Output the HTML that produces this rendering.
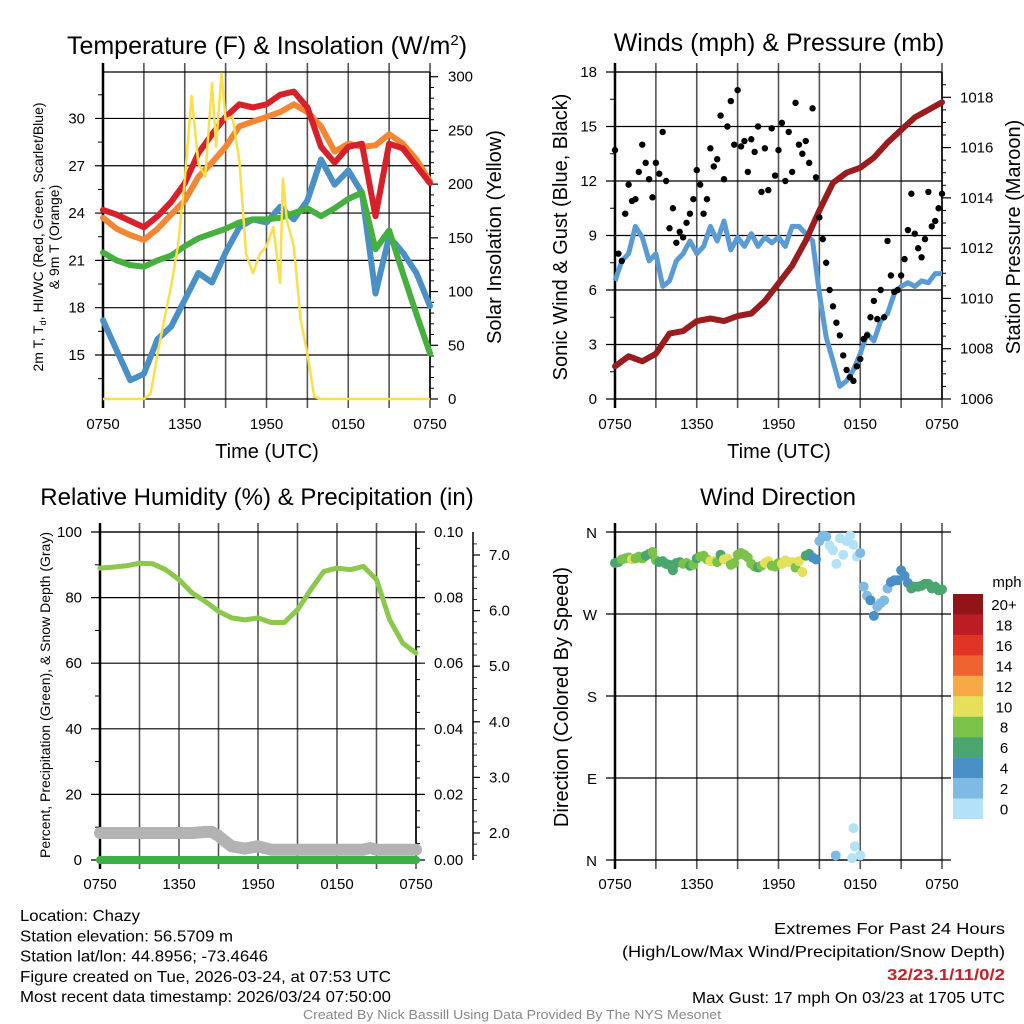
<!DOCTYPE html>
<html><head><meta charset="utf-8"><style>
html,body{margin:0;padding:0;background:#fff;}
svg{display:block;font-family:"Liberation Sans",sans-serif;}
</style></head><body>
<svg id="chart" width="1024" height="1024" viewBox="0 0 1024 1024"></svg>
<script>
// ---------- data ----------
const hours = [0,1,2,3,4,5,6,7,8,9,10,11,12,13,14,15,16,17,18,19,20,21,22,23,24];
const xTickLabels = ["0750","1350","1950","0150","0750"];
const tempTicks = [15,18,21,24,27,30];
const solarTicks = [0,50,100,150,200,250,300];
const temp2m = [24.2,23.9,23.5,23.1,23.8,24.7,25.9,27.8,29.0,30.1,30.9,30.7,30.9,31.5,31.7,30.7,28.2,27.2,28.2,28.4,23.8,28.4,28.1,27.0,25.9];
const temp9m = [23.7,23.0,22.6,22.3,23.0,23.9,24.8,26.3,27.2,28.2,29.5,29.8,30.1,30.4,30.9,30.4,29.5,27.9,28.4,28.2,28.3,29.0,28.4,27.4,26.0];
const dewpt = [21.5,21.0,20.7,20.6,21.0,21.3,21.9,22.4,22.7,23.0,23.4,23.6,23.6,23.7,24.0,24.3,23.8,24.3,24.9,25.3,21.7,22.9,20.2,17.6,15.1];
const windChill = [17.2,15.3,13.4,13.8,16.0,16.8,18.5,20.2,19.6,21.5,23.1,23.6,23.4,24.4,23.6,24.8,27.4,25.8,26.7,25.3,18.9,22.5,21.5,20.2,18.1];
const solarHours = [0,3,3.5,4,4.5,5,5.5,6,6.5,7,7.5,8,8.3,8.7,9,9.5,10,10.5,11,11.5,12,12.5,13,13.2,13.5,14,14.5,15,15.5,16,24];
const solar = [0,0,5,42,74,105,142,204,282,219,207,294,235,303,260,263,222,135,117,135,142,160,108,205,166,142,74,42,2,0,0];

const windHours = [0,0.5,1,1.5,2,2.5,3,3.5,4,4.5,5,5.5,6,6.5,7,7.5,8,8.5,9,9.5,10,10.5,11,11.5,12,12.5,13,13.5,14,14.5,15,15.5,16,16.5,17,17.5,18,18.5,19,19.5,20,20.5,21,21.5,22,22.5,23,23.5,24];
const sonicWind = [6.5,7.6,8.0,9.5,8.9,7.6,8.0,6.2,6.5,7.6,8.0,8.7,8.0,8.4,9.5,8.7,9.8,8.2,8.9,8.4,9.1,8.4,8.9,8.6,8.9,8.4,9.5,9.5,9.1,8.7,5.8,3.4,2.1,0.7,1.0,1.6,2.5,3.6,3.2,4.3,4.7,5.8,6.2,6.4,6.2,6.5,6.4,6.9,6.9];
const windTicks = [0,3,6,9,12,15,18];
const pressTicks = [1006,1008,1010,1012,1014,1016,1018];
const pressure = [1007.3,1007.7,1007.5,1007.8,1008.6,1008.7,1009.1,1009.2,1009.1,1009.3,1009.4,1009.9,1010.6,1011.3,1012.3,1013.5,1014.6,1015.0,1015.2,1015.6,1016.2,1016.7,1017.2,1017.5,1017.8];
const gusts = [13.7,8.0,7.6,10.2,11.8,10.9,11.0,12.5,14.0,13.0,12.1,11.1,13.0,12.4,14.7,12.0,9.4,10.5,8.6,9.2,8.9,9.7,10.2,11.0,12.6,11.8,10.2,11.0,13.8,12.8,13.2,15.6,12.1,15.0,16.4,14.0,17.0,13.9,14.2,12.5,14.3,13.6,15.0,11.4,13.8,11.5,14.9,12.3,13.7,15.2,12.0,14.7,12.5,16.3,14.0,13.5,14.2,13.0,16.0,12.2,10.0,8.8,7.5,6.0,5.1,4.2,3.5,2.4,1.6,1.2,1.0,1.8,2.2,3.3,3.5,4.5,5.4,4.4,6.0,4.5,8.7,6.8,5.9,6.0,6.8,7.7,9.3,11.3,9.1,8.3,7.8,8.8,11.4,9.5,9.8,10.5,11.3];

const rhTicks = [0,20,40,60,80,100];
const precipTicks = ["0.00","0.02","0.04","0.06","0.08","0.10"];
const snowTicks = [2,3,4,5,6,7];
const rh = [89.0,89.3,89.7,90.5,90.3,88.5,85.5,81.4,78.8,75.8,73.8,73.2,73.8,72.4,72.4,76.3,82.4,88.0,89.0,88.5,89.5,85.5,73.2,66.1,63.1];
const snowHours = [0,3,6,7,8,8.5,9,9.5,10,11,12,13,14,20,20.5,21,24];
const snowDepth = [2.0,2.0,2.0,2.0,2.02,2.02,1.95,1.85,1.76,1.72,1.76,1.70,1.70,1.70,1.73,1.70,1.70];
const precip = [0,0];
const precipHours = [0,24];

const dirLabels = ["N","E","S","W","N"];
const windDir = [326,327,330,331,332,330,331,333,331,334,336,338,329,327,328,325,324,318,326,327,325,326,323,324,331,333,334,330,328,328,327,335,330,331,324,326,335,337,335,332,325,322,321,323,326,328,323,322,326,325,329,327,327,321,328,316,334,336,332,330,350,356,355,345,340,325,353,335,350,356,346,333,337,300,290,285,268,278,282,285,298,305,307,307,318,312,304,298,300,300,301,303,303,298,300,296,297];
const windSpd = [6,6,8,8,8,10,8,9,8,7,6,8,8,6,6,6,6,6,6,7,8,8,7,8,6,8,8,9,10,10,8,6,10,10,8,8,8,8,8,8,8,8,7,8,10,10,8,9,8,10,10,10,10,8,10,11,6,6,4,5,3,2,2,1,1,0,1,1,0,0,0,1,3,3,3,4,4,3,3,3,3,4,4,4,4,4,4,6,6,6,6,6,6,6,6,6,6];
const calmHours = [16.2,17.5,17.6,17.4,18.0];
const calmDir = [5,35,15,2,5];
const calmSpd = [2,0,0,0,0];
const legendLabels = ["20+","18","16","14","12","10","8","6","4","2","0"];
const legendColors = ["#911518","#bc1c24","#df3426","#ef6330","#f6a945","#e5e05a","#7bc24a","#4aa56e","#4a8fc6","#7ebae3","#b3e2f7"];

// ---------- helpers ----------
const NS="http://www.w3.org/2000/svg";
const svg=document.getElementById('chart');
function mk(tag,attrs,parent){const e=document.createElementNS(NS,tag);for(const k in attrs)e.setAttribute(k,attrs[k]);(parent||svg).appendChild(e);return e;}
function txt(s,x,y,size,anchor,parent,extra){const e=mk('text',Object.assign({x:x,y:y,'font-size':size,'text-anchor':anchor||'middle',fill:'#000'},extra||{}),parent);e.textContent=s;return e;}
function lin(x1,y1,x2,y2,c,w,parent){return mk('line',{x1:x1,y1:y1,x2:x2,y2:y2,stroke:c,'stroke-width':w},parent);}
function pathFrom(xs,ys,fx,fy){let d='';for(let i=0;i<xs.length;i++){d+=(i?'L':'M')+fx(xs[i]).toFixed(1)+','+fy(ys[i]).toFixed(1);}return d;}

function frame(g,L,R,T,B){
  for(let i=0;i<=8;i++){const x=L+i*(R-L)/8;
    const l=lin(x,T-9,x,B+9,i==0?'#000':'#555',i==0?2.5:1.6,g);
    
    }
  lin(L,T,R,T,'#000',1.2,g);lin(L,B,R,B,'#000',1.2,g);
}
function xLabels(g,L,R,y){for(let i=0;i<5;i++){const t=txt(xTickLabels[i],L+i*(R-L)/4,y,15,'middle',g);
  
  }}

// ---------- Panel 1: temperature ----------
(function(){
  const g=mk('g',{});
  
  
  const L=103,R=430,T=72,B=399;
  const X=h=>L+h*(R-L)/24, Y=v=>355-(v-15)*15.77, YS=v=>399-v*(399-76.7)/300;
  frame(g,L,R,T,B);
  tempTicks.forEach(v=>{lin(95,Y(v),R,Y(v),'#000',1.2,g);const t=txt(String(v),85,Y(v)+5,15,'end',g);
    
    });
  for(let v=13.5;v<33;v+=3)lin(98,Y(v),L,Y(v),'#000',1,g);
  lin(R,T,R,B,'#000',1.5,g);
  solarTicks.forEach(v=>{lin(R,YS(v),R+8,YS(v),'#000',1.2,g);const t=txt(String(v),448,YS(v)+5,15,'start',g);
    
    });
  for(let v=10;v<305;v+=10)if(v%50)lin(R,YS(v),R+4,YS(v),'#000',1,g);
  const series=[[windChill,'#4a8fc6','windchill-line'],[dewpt,'#46b03e','dewpoint-line'],[temp9m,'#f58634','temp-9m-line'],[temp2m,'#d7202a','temp-2m-line']];
  series.forEach(s=>{const p=mk('path',{d:pathFrom(hours,s[0],X,Y),fill:'none',stroke:s[1],'stroke-width':6,'stroke-linejoin':'round','stroke-linecap':'round'},g);
    
    });
  const ps=mk('path',{d:pathFrom(solarHours,solar,X,YS),fill:'none',stroke:'#f9e04b','stroke-width':2.5,'stroke-linejoin':'round'},g);
  
  
  let t=mk('text',{x:267,y:54,'font-size':25,'text-anchor':'middle'},g);t.innerHTML='Temperature (F) &amp; Insolation (W/m<tspan font-size="15" dy="-9">2</tspan><tspan dy="9">)</tspan>';
  
  
  xLabels(g,L,R,429);
  t=txt('Time (UTC)',267,458,20,'middle',g);
  
  
  t=mk('text',{x:0,y:0,'font-size':14,'text-anchor':'middle',transform:'translate(43,237) rotate(-90)'},g);t.innerHTML='2m T, T<tspan font-size="9" dy="3">d</tspan><tspan dy="-3">, HI/WC (Red, Green, Scarlet/Blue)</tspan>';
  
  
  t=txt('& 9m T (Orange)',0,0,14,'middle',g,{transform:'translate(59,237) rotate(-90)'});
  
  
  t=txt('Solar Insolation (Yellow)',0,0,20,'middle',g,{transform:'translate(501,237) rotate(-90)'});
  
  
})();

// ---------- Panel 2: winds ----------
(function(){
  const g=mk('g',{});
  
  
  const L=615,R=942,T=72,B=399;
  const X=h=>L+h*(R-L)/24, Y=v=>B-v*(B-T)/18, YP=v=>399-(v-1006)*(399-97.3)/12;
  frame(g,L,R,T,B);
  windTicks.forEach(v=>{lin(606,Y(v),R,Y(v),'#000',1.2,g);const t=txt(String(v),597,Y(v)+5,15,'end',g);
    
    });
  for(let v=1.5;v<18;v+=3)lin(610,Y(v),L,Y(v),'#000',1,g);
  lin(R,T,R,B,'#000',1.5,g);
  pressTicks.forEach(v=>{lin(R,YP(v),R+9,YP(v),'#000',1.2,g);const t=txt(String(v),960,YP(v)+5,15,'start',g);
    
    });
  for(let v=1006.5;v<1019;v+=0.5)if(v%2)lin(R,YP(v),R+4,YP(v),'#000',1,g);
  const pw=mk('path',{d:pathFrom(windHours,sonicWind,X,Y),fill:'none',stroke:'#5b9bd5','stroke-width':5,'stroke-linejoin':'round'},g);
  
  
  const pp=mk('path',{d:pathFrom(hours,pressure,X,YP),fill:'none',stroke:'#9b1c1f','stroke-width':6,'stroke-linejoin':'round','stroke-linecap':'round'},g);
  
  
  gusts.forEach((v,i)=>{const c=mk('circle',{cx:X(i*0.25),cy:Y(v),r:3.2,fill:'#000'},g);
    
    });
  let t=txt('Winds (mph) & Pressure (mb)',779,51,25,'middle',g);
  
  
  xLabels(g,L,R,429);
  t=txt('Time (UTC)',779,458,20,'middle',g);
  
  
  t=txt('Sonic Wind & Gust (Blue, Black)',0,0,20,'middle',g,{transform:'translate(567,237) rotate(-90)'});
  
  
  t=txt('Station Pressure (Maroon)',0,0,20,'middle',g,{transform:'translate(1020,237) rotate(-90)'});
  
  
})();

// ---------- Panel 3: humidity ----------
(function(){
  const g=mk('g',{});
  
  
  const L=100,R=416,T=532,B=860;
  const X=h=>L+h*(R-L)/24, Y=v=>B-v*(B-T)/100, YS=v=>833-(v-2)*55.6;
  frame(g,L,R,T,B);
  rhTicks.forEach((v,i)=>{lin(91,Y(v),R+9,Y(v),'#000',1.2,g);let t=txt(String(v),82,Y(v)+5,15,'end',g);
    
    
    t=txt(precipTicks[i],434,Y(v)+5,15,'start',g);
    
    });
  for(let v=10;v<100;v+=20)lin(95,Y(v),L,Y(v),'#000',1,g);
  lin(R,T,R,B,'#000',1.5,g);
  for(let v=5;v<100;v+=5)if(v%20)lin(R,Y(v),R+4,Y(v),'#000',1,g);
  lin(473,T,473,B,'#000',1.5,g);
  snowTicks.forEach(v=>{lin(473,YS(v),480,YS(v),'#000',1.2,g);const t=txt(v.toFixed(1),489,YS(v)+5,15,'start',g);
    
    });
  for(let v=1.6;v<7.4;v+=0.2)lin(473,YS(v),477,YS(v),'#000',0.8,g);
  const sd=mk('path',{d:pathFrom(snowHours,snowDepth,X,YS),fill:'none',stroke:'#b3b3b3','stroke-width':12,'stroke-linejoin':'round','stroke-linecap':'round'},g);
  
  
  const pr=mk('path',{d:pathFrom(precipHours,precip,X,v=>B-v*(B-T)/0.1),fill:'none',stroke:'#3cb043','stroke-width':8,'stroke-linecap':'round'},g);
  
  
  const rl=mk('path',{d:pathFrom(hours,rh,X,Y),fill:'none',stroke:'#8cc84b','stroke-width':5,'stroke-linejoin':'round','stroke-linecap':'round'},g);
  
  
  let t=txt('Relative Humidity (%) & Precipitation (in)',257,505,24,'middle',g);
  
  
  xLabels(g,L,R,889);
  t=txt('Percent, Precipitation (Green), & Snow Depth (Gray)',0,0,14,'middle',g,{transform:'translate(50,695) rotate(-90)'});
  
  
})();

// ---------- Panel 4: wind direction ----------
(function(){
  const g=mk('g',{});
  
  
  const L=615,R=942,T=532,B=860;
  const X=h=>L+h*(R-L)/24, Y=d=>B-d*(B-T)/360;
  frame(g,L,R,T,B);
  dirLabels.forEach((s,i)=>{const y=Y(i*90);lin(606,y,951,y,'#000',1.2,g);const t=txt(s,597,y+6,15,'end',g);
    
    });
  const col=s=>legendColors[10-Math.min(10,Math.floor(s/2))];
  windDir.forEach((d,i)=>{const c=mk('circle',{cx:X(i*0.25),cy:Y(d),r:5,fill:col(windSpd[i])},g);
    
    });
  calmDir.forEach((d,i)=>{const c=mk('circle',{cx:X(calmHours[i]),cy:Y(d),r:5,fill:col(calmSpd[i])},g);
    
    });
  const lg=mk('g',{},g);
  
  
  legendColors.forEach((c,i)=>{const y=594+i*20.45;const r=mk('rect',{x:953,y:y,width:30,height:20.6,fill:c},lg);
    
    
    const t=txt(legendLabels[i],1004,y+16,15,'middle',lg);
    
    });
  let t=txt('mph',1007,587,15,'middle',lg);
  
  
  t=txt('Wind Direction',778,505,24,'middle',g);
  
  
  xLabels(g,L,R,889);
  t=txt('Direction (Colored By Speed)',0,0,20,'middle',g,{transform:'translate(568,697) rotate(-90)'});
  
  
})();

// ---------- footer text ----------
(function(){
  const g=mk('g',{});
  
  
  const lines=[['Location: Chazy',120],['Station elevation: 56.5709 m',213],['Station lat/lon: 44.8956; -73.4646',248],['Figure created on Tue, 2026-03-24, at 07:53 UTC',371],['Most recent data timestamp: 2026/03/24 07:50:00',371]];
  lines.forEach((s,i)=>{const t=txt(s[0],20,921+i*20.3,16,'start',g,{textLength:s[1],lengthAdjust:'spacingAndGlyphs'});
    
    });
  const g2=mk('g',{});
  
  
  const opt=w=>({textLength:w,lengthAdjust:'spacingAndGlyphs'});
  let t=txt('Extremes For Past 24 Hours',1005,934,16,'end',g2,opt(231));
  
  
  t=txt('(High/Low/Max Wind/Precipitation/Snow Depth)',1005,957,16,'end',g2,opt(383));
  
  
  t=txt('32/23.1/11/0/2',1005,980,16,'end',g2,Object.assign({fill:'#c8202a','font-weight':'bold'},opt(118)));
  
  
  t=txt('Max Gust: 17 mph On 03/23 at 1705 UTC',1005,1003,16,'end',g2,opt(313));
  
  
  t=txt('Created By Nick Bassill Using Data Provided By The NYS Mesonet',512,1019,13,'middle',g2,Object.assign({fill:'#888'},opt(418)));
  
  
})();
</script>
</body></html>
